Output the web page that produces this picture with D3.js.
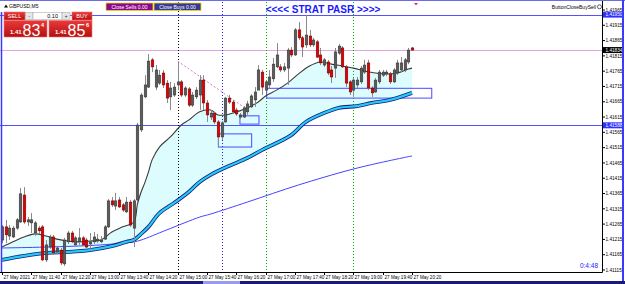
<!DOCTYPE html>
<html><head><meta charset="utf-8">
<script src="https://cdn.jsdelivr.net/npm/d3@7"></script>
<style>body{margin:0;background:#fff;overflow:hidden}svg{display:block}text{font-family:"Liberation Sans",Arial,sans-serif}</style>
</head><body><svg id="c" width="625" height="284"></svg>
<script>
// ---- data (GBPUSD M5, 27 May 2021, bars 11:00 .. 20:20) ----
const openP=[1.41213,1.41256,1.41226,1.41223,1.41252,1.41272,1.41360,1.41272,1.41269,1.41236,
1.41252,1.41256,1.41148,1.41190,1.41223,1.41174,1.41180,1.41135,1.41207,1.41236,
1.41197,1.41207,1.41220,1.41213,1.41200,1.41207,1.41210,1.41207,1.41216,1.41256,
1.41341,1.41324,1.41344,1.41328,1.41305,1.41337,1.41252,1.41344,1.41573,1.41681,
1.41713,1.41802,1.41713,1.41726,1.41759,1.41726,1.41681,1.41687,1.41720,1.41730,
1.41687,1.41707,1.41654,1.41681,1.41687,1.41736,1.41661,1.41615,1.41628,1.41599,
1.41550,1.41599,1.41677,1.41664,1.41638,1.41615,1.41615,1.41632,1.41648,1.41671,
1.41703,1.41762,1.41703,1.41720,1.41740,1.41779,1.41779,1.41769,1.41775,1.41834,
1.41818,1.41900,1.41874,1.41851,1.41880,1.41851,1.41861,1.41818,1.41785,1.41795,
1.41769,1.41775,1.41824,1.41841,1.41779,1.41730,1.41703,1.41720,1.41730,1.41762,
1.41792,1.41710,1.41697,1.41730,1.41752,1.41756,1.41756,1.41730,1.41759,1.41769,
1.41769,1.41795,1.41841];
const highP=[1.41262,1.41279,1.41262,1.41259,1.41285,1.41383,1.41386,1.41288,1.41301,1.41275,
1.41259,1.41262,1.41213,1.41230,1.41230,1.41194,1.41187,1.41220,1.41243,1.41243,
1.41226,1.41252,1.41226,1.41220,1.41236,1.41239,1.41233,1.41226,1.41262,1.41347,
1.41354,1.41367,1.41354,1.41334,1.41354,1.41344,1.41347,1.41596,1.41694,1.41752,
1.41821,1.41808,1.41785,1.41769,1.41769,1.41736,1.41730,1.41726,1.41795,1.41736,
1.41716,1.41713,1.41697,1.41713,1.41752,1.41752,1.41671,1.41638,1.41632,1.41605,
1.41602,1.41681,1.41687,1.41671,1.41645,1.41628,1.41651,1.41668,1.41690,1.41713,
1.41785,1.41769,1.41736,1.41769,1.41808,1.41857,1.41788,1.41792,1.41841,1.41844,
1.41906,1.41926,1.41880,1.41949,1.41900,1.41874,1.41867,1.41841,1.41808,1.41802,
1.41782,1.41841,1.41854,1.41847,1.41785,1.41736,1.41743,1.41746,1.41782,1.41802,
1.41802,1.41716,1.41743,1.41769,1.41769,1.41769,1.41762,1.41775,1.41802,1.41811,
1.41808,1.41841,1.41844];
const lowP=[1.41203,1.41203,1.41213,1.41220,1.41246,1.41269,1.41266,1.41259,1.41236,1.41226,
1.41233,1.41144,1.41141,1.41184,1.41164,1.41167,1.41131,1.41128,1.41200,1.41203,
1.41194,1.41197,1.41194,1.41187,1.41180,1.41200,1.41203,1.41203,1.41213,1.41252,
1.41321,1.41311,1.41318,1.41305,1.41301,1.41256,1.41190,1.41337,1.41566,1.41677,
1.41710,1.41762,1.41703,1.41720,1.41710,1.41661,1.41638,1.41681,1.41703,1.41681,
1.41681,1.41648,1.41648,1.41674,1.41638,1.41638,1.41599,1.41605,1.41592,1.41517,
1.41540,1.41596,1.41658,1.41625,1.41619,1.41609,1.41612,1.41622,1.41645,1.41648,
1.41710,1.41687,1.41697,1.41710,1.41730,1.41775,1.41762,1.41762,1.41720,1.41811,
1.41815,1.41867,1.41811,1.41841,1.41844,1.41844,1.41808,1.41785,1.41779,1.41752,
1.41726,1.41743,1.41818,1.41775,1.41713,1.41687,1.41681,1.41710,1.41723,1.41756,
1.41703,1.41681,1.41694,1.41723,1.41746,1.41749,1.41723,1.41726,1.41752,1.41762,
1.41762,1.41788,1.41831];
const closeP=[1.41256,1.41230,1.41252,1.41252,1.41279,1.41364,1.41272,1.41279,1.41279,1.41269,
1.41243,1.41148,1.41197,1.41223,1.41171,1.41187,1.41138,1.41213,1.41236,1.41207,
1.41220,1.41220,1.41197,1.41190,1.41207,1.41223,1.41216,1.41213,1.41256,1.41341,
1.41328,1.41341,1.41321,1.41311,1.41337,1.41262,1.41341,1.41589,1.41687,1.41720,
1.41798,1.41779,1.41769,1.41752,1.41720,1.41677,1.41710,1.41713,1.41730,1.41687,
1.41710,1.41654,1.41687,1.41703,1.41736,1.41661,1.41622,1.41628,1.41599,1.41550,
1.41596,1.41677,1.41664,1.41632,1.41625,1.41622,1.41645,1.41658,1.41684,1.41697,
1.41769,1.41713,1.41730,1.41746,1.41788,1.41818,1.41769,1.41779,1.41834,1.41818,
1.41900,1.41874,1.41844,1.41883,1.41851,1.41867,1.41811,1.41792,1.41802,1.41759,
1.41746,1.41828,1.41847,1.41779,1.41726,1.41697,1.41736,1.41736,1.41775,1.41785,
1.41710,1.41694,1.41736,1.41762,1.41762,1.41762,1.41730,1.41769,1.41792,1.41792,
1.41802,1.41834,1.41834];

// moving averages (bar index -> price)
const maFastIdx=[0,3,6,9,12,15,18,21,24,27,30,33,36,37,38,39,40,41,43,46,49,51,54,57,59,61,64,67,70,72,75,78,81,84,87,90,93,96,99,102,105,108,111,112];
const maFastVal=[1.41190,1.41207,1.41223,1.41233,1.41226,1.41216,1.41210,1.41207,1.41210,1.41213,1.41239,1.41256,1.41272,1.41330,1.41370,1.41400,1.41435,1.41475,1.41517,1.41550,1.41589,1.41605,1.41632,1.41638,1.41622,1.41622,1.41632,1.41645,1.41664,1.41684,1.41703,1.41726,1.41756,1.41782,1.41795,1.41788,1.41782,1.41775,1.41766,1.41759,1.41756,1.41759,1.41772,1.41775];
const maMidIdx=[0,6,12,18,24,30,34,36,38,40,43,47,51,54,57,62,67,71,75,79,83,88,92,97,101,106,112];
const maMidVal=[1.41148,1.41161,1.41171,1.41174,1.41180,1.41193,1.41207,1.41213,1.41233,1.41256,1.41301,1.41334,1.41370,1.41403,1.41426,1.41455,1.41481,1.41507,1.41530,1.41556,1.41599,1.41628,1.41645,1.41651,1.41661,1.41671,1.41694];
const maSlowIdx=[0,12,27,36,38,45,54,57,67,81,95,103,112];
const maSlowVal=[1.41187,1.41190,1.41197,1.41207,1.41213,1.41246,1.41288,1.41298,1.41337,1.41393,1.41442,1.41465,1.41488];

const xTickIdx=[0,8,16,24,32,40,48,56,64,72,80,88,96,104,112];
const xTickLabels=["27 May 2021","27 May 11:40","27 May 12:20","27 May 13:00","27 May 13:40","27 May 14:20","27 May 15:00","27 May 15:40","27 May 16:20","27 May 17:00","27 May 17:40","27 May 18:20","27 May 19:00","27 May 19:40","27 May 20:20"];
const yTicks=[1.41965,1.41915,1.41865,1.41815,1.41765,1.41715,1.41665,1.41615,1.41565,1.41515,1.41465,1.41415,1.41365,1.41315,1.41265,1.41215,1.41165,1.41115];

// chart objects
const hLineBlue=[1.41950,1.41588];
const bidPrice=1.41834;
const vLinesIdx=[48,60,72,96];
const vLinesColor=["#000000","#2020ff","#00b000","#00b000"];
const rectIdx0=[59.1,65.0,72.3], rectIdx1=[68.2,70.2,117.4];
const rectTop=[1.41560,1.41619,1.41709], rectBot=[1.41517,1.41592,1.41677];
const trendIdx=[48,67.5], trendVal=[1.41798,1.41635];

// ---- drawing ----
const svg=d3.select("#c");
const x=d3.scaleLinear().domain([0,112]).range([2,412]);
const y=d3.scaleLinear().domain([1.41115,1.41965]).range([270,10]);
const R=602, B=272;

const defs=svg.append("defs");
defs.append("clipPath").attr("id","plot").append("rect").attr("x",0).attr("y",0).attr("width",R).attr("height",B);
const gr=defs.append("linearGradient").attr("id","red").attr("x1",0).attr("y1",0).attr("x2",0).attr("y2",1);
gr.append("stop").attr("offset","0%").attr("stop-color","#ea3a3a");
gr.append("stop").attr("offset","100%").attr("stop-color","#b50f0f");

svg.append("rect").attr("width",625).attr("height",284).attr("fill","#fff");
const plot=svg.append("g").attr("clip-path","url(#plot)");

const pts=(ix,vv)=>ix.map((d,k)=>[x(d),y(vv[k])]);
const line=d3.line().curve(d3.curveCatmullRom.alpha(0.5));
const fastPts=pts(maFastIdx,maFastVal), midPts=pts(maMidIdx,maMidVal);
// cloud fill between fast and mid MA
plot.append("path").attr("d",line(fastPts)+"L"+line(midPts.slice().reverse()).slice(1)+"Z")
  .attr("fill","#dcfcfe").attr("stroke","none");

// horizontal lines (drawn as 1px bands)
hLineBlue.forEach(v=>plot.append("rect").attr("x",0).attr("width",R).attr("y",Math.round(y(v))).attr("height",1).attr("fill","#5252ff"));
plot.append("rect").attr("x",0).attr("width",R).attr("y",Math.round(y(bidPrice))).attr("height",1).attr("fill","#e2a6e2");

// vertical dotted lines
vLinesIdx.forEach((d,k)=>plot.append("line").attr("x1",Math.round(x(d))+0.5).attr("x2",Math.round(x(d))+0.5).attr("y1",2).attr("y2",B)
  .attr("stroke",vLinesColor[k]).attr("stroke-dasharray","1,2").attr("stroke-width",1));

// rectangles
rectIdx0.forEach((d,k)=>plot.append("rect").attr("x",x(d)).attr("y",y(rectTop[k])).attr("width",x(rectIdx1[k])-x(d)).attr("height",y(rectBot[k])-y(rectTop[k]))
  .attr("fill","none").attr("stroke","#4a4aff").attr("stroke-width",1));

// trend line
plot.append("line").attr("x1",x(trendIdx[0])).attr("y1",y(trendVal[0])).attr("x2",x(trendIdx[1])).attr("y2",y(trendVal[1]))
  .attr("stroke","#d77ad7").attr("stroke-dasharray","2,2").attr("stroke-width",1);

// MAs
plot.append("path").attr("d",line(pts(maSlowIdx,maSlowVal))).attr("fill","none").attr("stroke","#4444ff").attr("stroke-width",1);
plot.append("path").attr("d",line(midPts)).attr("fill","none").attr("stroke","#1a1a80").attr("stroke-width",3.8);
plot.append("path").attr("d",line(midPts)).attr("fill","none").attr("stroke","#22ccf4").attr("stroke-width",2.2);
plot.append("path").attr("d",line(fastPts)).attr("fill","none").attr("stroke","#3a3a3a").attr("stroke-width",1.1);

// candles
const cg=plot.append("g");
openP.forEach((o,i)=>{
  const c=closeP[i], cx=Math.round(x(i))+0.5;
  cg.append("line").attr("x1",cx).attr("x2",cx).attr("y1",y(highP[i])).attr("y2",y(lowP[i])).attr("stroke","#8a8a8a").attr("stroke-width",1);
  const t=y(Math.max(o,c)), b=y(Math.min(o,c));
  const bull=c>=o;
  cg.append("rect").attr("x",cx-1.3).attr("y",t).attr("width",2.6).attr("height",Math.max(1,b-t))
    .attr("fill",bull?"#5c5c5c":"#e00000").attr("stroke",bull?"#2e2e2e":"#6a0000").attr("stroke-width",0.5);
});

// axes frame
svg.append("line").attr("x1",R+0.5).attr("x2",R+0.5).attr("y1",0).attr("y2",B+0.5).attr("stroke","#000");
svg.append("line").attr("x1",0).attr("x2",R+0.5).attr("y1",B+0.5).attr("y2",B+0.5).attr("stroke","#000");

// price axis
const ya=svg.append("g");
yTicks.forEach(v=>{
  const yy=y(v);
  ya.append("line").attr("x1",R).attr("x2",R+3).attr("y1",yy).attr("y2",yy).attr("stroke","#000");
  ya.append("text").attr("x",605.5).attr("y",yy+1.7).attr("font-size",4.7).attr("fill","#000").text(v.toFixed(5));
});
function tag(v,fill){
  const yy=y(v);
  ya.append("rect").attr("x",603).attr("y",yy-3).attr("width",19).attr("height",6).attr("fill",fill);
  ya.append("text").attr("x",605.5).attr("y",yy+1.7).attr("font-size",4.7).attr("fill","#fff").text(v.toFixed(5));
}
hLineBlue.forEach(v=>tag(v,"#2f2fff"));
tag(bidPrice,"#000");

// time axis
const xa=svg.append("g");
xTickIdx.forEach((d,k)=>{
  const xx=Math.round(x(d))+0.5;
  xa.append("line").attr("x1",xx).attr("x2",xx).attr("y1",B).attr("y2",B+3).attr("stroke","#000");
  xa.append("text").attr("x",xx+1).attr("y",278.5).attr("font-size",4.6).attr("fill","#000").text(xTickLabels[k]);
});

// window borders
svg.append("line").attr("x1",0).attr("x2",625).attr("y1",0.5).attr("y2",0.5).attr("stroke","#6c6ce6");
svg.append("line").attr("x1",1.5).attr("x2",1.5).attr("y1",12).attr("y2",B).attr("stroke","#3a3aff").attr("stroke-width",1.5);
svg.append("line").attr("x1",623).attr("x2",623).attr("y1",0).attr("y2",284).attr("stroke","#3a3aff").attr("stroke-width",2);
svg.append("rect").attr("x",0).attr("y",281).attr("width",625).attr("height",3).attr("fill","#1a1a78");
svg.append("rect").attr("x",203).attr("y",281).attr("width",37).attr("height",3).attr("fill","#9a9af0");

// header texts
svg.append("path").attr("d","M4,7.5L6,4.5L8,7.5Z").attr("fill","#000");
svg.append("text").attr("x",9).attr("y",8).attr("font-size",5).attr("fill","#000").text("GBPUSD,M5");
svg.append("text").attr("x",323).attr("y",12.5).attr("text-anchor","middle").attr("font-size",10).attr("font-weight","bold").attr("fill","#1a1aff").text("<<<< STRAT PASR >>>>");
svg.append("text").attr("x",596).attr("y",8.5).attr("text-anchor","end").attr("font-size",5).attr("fill","#000").text("ButtonCloseBuySell");
svg.append("circle").attr("cx",599.5).attr("cy",6.8).attr("r",2).attr("fill","none").attr("stroke","#000").attr("stroke-width",0.6);
svg.append("path").attr("d","M414,3L418,3L416,5.5Z").attr("fill","#c030c0");
svg.append("text").attr("x",598).attr("y",268).attr("text-anchor","end").attr("font-size",6.5).attr("fill","#1a1aff").text("0:4:48");

// close buttons
function btn(x0,label,fill){
  svg.append("rect").attr("x",x0).attr("y",3).attr("width",47).attr("height",7.5).attr("fill",fill).attr("stroke","#e8e000").attr("stroke-width",0.8);
  svg.append("text").attr("x",x0+23.5).attr("y",8.6).attr("text-anchor","middle").attr("font-size",5).attr("fill","#fff").text(label);
}
btn(106,"Close Sells 0.00","#8a0a8a");
btn(154,"Close Buys 0.00","#3a3a90");

// trade panel
function redBox(x0,y0,w,h){svg.append("rect").attr("x",x0).attr("y",y0).attr("width",w).attr("height",h).attr("fill","url(#red)").attr("stroke","#f07070").attr("stroke-width",0.6);}
redBox(4,12,21,8);
svg.append("text").attr("x",14.5).attr("y",18.2).attr("text-anchor","middle").attr("font-size",5.5).attr("fill","#fff").text("SELL");
svg.append("rect").attr("x",25.5).attr("y",12.5).attr("width",7.5).attr("height",7).attr("fill","#e6e6e6").attr("stroke","#a0a0a0").attr("stroke-width",0.5);
svg.append("text").attr("x",29.2).attr("y",18).attr("text-anchor","middle").attr("font-size",5.5).attr("fill","#333").text("-");
svg.append("rect").attr("x",33).attr("y",12.5).attr("width",29).attr("height",7).attr("fill","#fff").attr("stroke","#a0a0a0").attr("stroke-width",0.5);
svg.append("text").attr("x",58).attr("y",18).attr("text-anchor","end").attr("font-size",5.5).attr("fill","#000").text("0.10");
svg.append("rect").attr("x",62).attr("y",12.5).attr("width",8).attr("height",7).attr("fill","#e6e6e6").attr("stroke","#a0a0a0").attr("stroke-width",0.5);
svg.append("text").attr("x",66).attr("y",18).attr("text-anchor","middle").attr("font-size",5.5).attr("fill","#333").text("+");
redBox(72,12,20,8);
svg.append("text").attr("x",82).attr("y",18.2).attr("text-anchor","middle").attr("font-size",5.5).attr("fill","#fff").text("BUY");
redBox(4,20.5,43,16.5);
redBox(49,20.5,43,16.5);
[[4,"83","4"],[49,"85","6"]].forEach(([x0,big,sup])=>{
  svg.append("text").attr("x",x0+6).attr("y",34).attr("font-size",6).attr("font-weight","bold").attr("fill","#fff").text("1.41");
  svg.append("text").attr("x",x0+18.5).attr("y",35.5).attr("font-size",16).attr("fill","#fff").text(big);
  svg.append("text").attr("x",x0+37).attr("y",26.5).attr("font-size",5.5).attr("font-weight","bold").attr("fill","#fff").text(sup);
});
</script></body></html>
